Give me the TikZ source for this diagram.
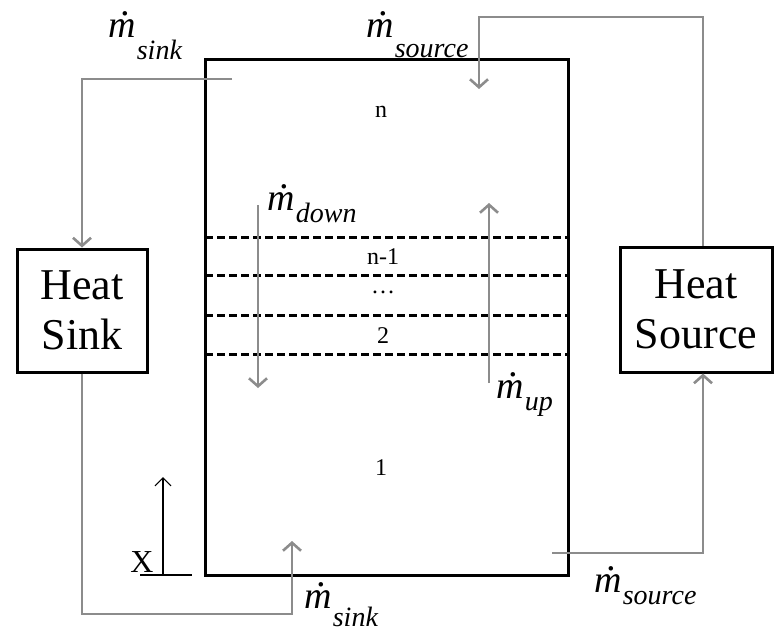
\documentclass[tikz,border=0pt]{standalone}
\usepackage{fontspec}
\setmainfont{Liberation Serif}
\usetikzlibrary{arrows.meta, positioning}

% mass flow label: dotted m with a lowered subscript
\newcommand{\mflow}[2][7pt]{{\fontsize{19}{19}\selectfont\itshape\ooalign{m\cr\hidewidth\kern0.2em\raisebox{0.56em}{.}\hidewidth\cr}}\kern0.5pt\raisebox{-#1}{\fontsize{14}{14}\selectfont\itshape #2}}

\begin{document}
\begin{tikzpicture}[x=0.5pt, y=-0.5pt]
  % --- STYLE DEFINITIONS ---
  \tikzstyle{tank}=[draw, line width=1.5pt, minimum width=181.5pt, minimum height=258pt, inner sep=0pt]
  \tikzstyle{hx}=[draw, line width=1.5pt, align=center, inner sep=0pt, font=\fontsize{22}{25}\selectfont]
  \tikzstyle{flow}=[draw=black!45, line width=1.3pt, -{Straight Barb[length=4pt, width=9pt]}]
  \tikzstyle{layer}=[line width=1.5pt, dash pattern=on 4pt off 2pt]
  \tikzstyle{axisline}=[line width=0.6pt]
  \tikzstyle{layerlabel}=[font=\fontsize{12}{12}\selectfont, inner sep=0pt]
  \tikzstyle{flowlabel}=[anchor=base west, inner sep=0pt]

  \useasboundingbox (0,0) rectangle (775,633);

  % =================================================================
  % STORAGE TANK WITH LAYERS
  % =================================================================
  \node[tank] (tank) at (386.5,317) {};
  \foreach \yy in {237, 275, 315, 354}
    \draw[layer] (205,\yy) -- (568,\yy);

  \node[layerlabel] (ln)  at (381,112) {n};
  \node[layerlabel] (ln1) at (383,257) {n-1};
  \node[layerlabel] (ldt) at (383,292) {\dots};
  \node[layerlabel] (l2)  at (383,336) {2};
  \node[layerlabel] (l1)  at (381,468) {1};

  % internal down / up flows
  \coordinate (dTop) at (258,205);
  \coordinate (dBot) at (258,388);
  \coordinate (uBot) at (489,383);
  \coordinate (uTop) at (489,203);
  \draw[flow] (dTop) -- (dBot);
  \draw[flow] (uBot) -- (uTop);
  \node[flowlabel] (mdown) at (267,210) {\mflow[6pt]{down}};
  \node[flowlabel] (mup) at (496,398) {\mflow[6pt]{up}};

  % =================================================================
  % HEAT SINK LOOP (LEFT)
  % =================================================================
  \node[hx, minimum width=65pt, minimum height=61.5pt] (sink) at (82,310.5) {Heat\\Sink};
  \coordinate (sinkOut) at (232,79);
  \coordinate (sinkIn) at (292,541);
  \draw[flow] (sinkOut) -| (sink.north);
  \draw[flow] (sink.south) -- (sink.south |- 0,614) -| (sinkIn);
  \node[flowlabel] (msinkT) at (108,37) {\mflow[11pt]{sink}};
  \node[flowlabel] (msinkB) at (304,608) {\mflow[9pt]{sink}};

  % =================================================================
  % HEAT SOURCE LOOP (RIGHT)
  % =================================================================
  \node[hx, minimum width=76pt, minimum height=62.5pt] (src) at (696,309.5) {Heat\\Source};
  \coordinate (srcIn) at (479,89);
  \coordinate (srcOut) at (552,553);
  \draw[flow] ([xshift=3.5pt]src.north) |- (srcIn |- 0,17) -- (srcIn);
  \draw[flow] (srcOut) -| ([xshift=3.5pt]src.south);
  \node[flowlabel] (msrcT) at (366,37) {\mflow[10pt]{source}};
  \node[flowlabel] (msrcB) at (594,592) {\mflow[6pt]{source}};

  % =================================================================
  % HEIGHT AXIS
  % =================================================================
  \coordinate (xBase) at (163,575);
  \coordinate (xTip) at (163,477);
  \draw[axisline] (140,575) -- (192,575);
  \draw[axisline, -{Straight Barb[length=4pt, width=8pt]}] (xBase) -- (xTip);
  \node[font=\fontsize{16}{16}\selectfont, inner sep=0pt] (xlab) at (142,562) {X};
\end{tikzpicture}
\end{document}
